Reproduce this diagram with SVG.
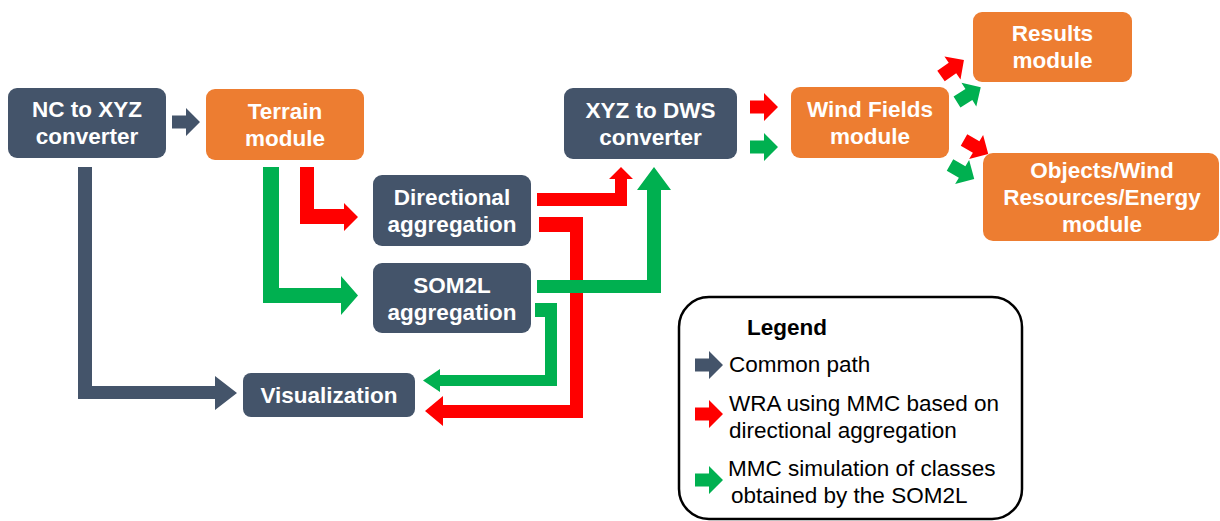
<svg xmlns="http://www.w3.org/2000/svg" width="1220" height="521" viewBox="0 0 1220 521">
  <style>
    .dark { fill: #44546A; }
    .orange { fill: #ED7D31; }
    .node text { font-family: "Liberation Sans", Arial, sans-serif; font-size: 22.5px; font-weight: bold; fill: #FFFFFF; text-anchor: middle; }
    .red { fill: #FF0000; }
    .green { fill: #00B050; }
    .grey { fill: #44546A; }
    .legend-text { font-family: "Liberation Sans", Arial, sans-serif; font-size: 22.5px; fill: #000000; }
  </style>
  <defs>
    <!-- small block arrow pointing right, tail at origin -->
    <path id="blk" d="M0,-6.5 H14 V-14 L28,0 L14,14 V6.5 H0 Z"/>
  </defs>
  <rect width="1220" height="521" fill="#FFFFFF"/>

  <!-- connectors -->
  <g id="connectors">
    <!-- common path -->
    <use href="#blk" class="grey" transform="translate(172,122)"/>
    <polygon class="grey" points="78,167 92,167 92,386 215,386 215,376 237,393 215,410 215,399 78,399"/>
    <!-- directional aggregation path -->
    <polygon class="red" points="300,167 314,167 314,209 344,209 344,203 358,217 344,231 344,224 300,224"/>
    <polygon class="red" points="537,193 615,193 615,179 609,179 621,167 633,179 627,179 627,206 537,206"/>
    <polygon class="red" points="539,217 583,217 583,418 443,418 443,426 425,411 443,396 443,405 570,405 570,232 539,232"/>
    <use href="#blk" class="red" transform="translate(750,107)"/>
    <use href="#blk" class="red" transform="translate(941,76) rotate(-35)"/>
    <use href="#blk" class="red" transform="translate(964,140) rotate(30)"/>
    <!-- SOM2L path -->
    <polygon class="green" points="263,167 279,167 279,288 341,288 341,276 358,295.5 341,315 341,303 263,303"/>
    <polygon class="green" points="537,280 647,280 647,190 637,190 654,167 671,190 661,190 661,293 537,293"/>
    <polygon class="green" points="535,303 557,303 557,386 440,386 440,392 423,380.5 440,369 440,375 545,375 545,317 535,317"/>
    <use href="#blk" class="green" transform="translate(750,147)"/>
    <use href="#blk" class="green" transform="translate(957,102) rotate(-32)"/>
    <use href="#blk" class="green" transform="translate(950,165) rotate(30)"/>
  </g>

  <!-- nodes -->
  <g id="nc-to-xyz" class="node">
    <rect class="dark" x="8" y="88" width="158" height="70" rx="9"/>
    <text x="87" y="117">NC to XYZ</text>
    <text x="87" y="144">converter</text>
  </g>
  <g id="terrain" class="node">
    <rect class="orange" x="206" y="89" width="158" height="71" rx="9"/>
    <text x="285" y="119">Terrain</text>
    <text x="285" y="146">module</text>
  </g>
  <g id="directional" class="node">
    <rect class="dark" x="373" y="175" width="158" height="71" rx="9"/>
    <text x="452" y="205">Directional</text>
    <text x="452" y="232">aggregation</text>
  </g>
  <g id="som2l" class="node">
    <rect class="dark" x="373" y="263" width="158" height="70" rx="9"/>
    <text x="452" y="293">SOM2L</text>
    <text x="452" y="320">aggregation</text>
  </g>
  <g id="visualization" class="node">
    <rect class="dark" x="243" y="373" width="172" height="44" rx="8"/>
    <text x="329" y="403">Visualization</text>
  </g>
  <g id="xyz-to-dws" class="node">
    <rect class="dark" x="564" y="88" width="173" height="71" rx="9"/>
    <text x="650.5" y="118">XYZ to DWS</text>
    <text x="650.5" y="145">converter</text>
  </g>
  <g id="wind-fields" class="node">
    <rect class="orange" x="791" y="87" width="158" height="71" rx="9"/>
    <text x="870" y="117">Wind Fields</text>
    <text x="870" y="144">module</text>
  </g>
  <g id="results" class="node">
    <rect class="orange" x="973" y="12" width="159" height="70" rx="9"/>
    <text x="1052.5" y="41">Results</text>
    <text x="1052.5" y="68">module</text>
  </g>
  <g id="objects" class="node">
    <rect class="orange" x="983" y="153" width="236" height="88" rx="10"/>
    <text x="1102" y="178">Objects/Wind</text>
    <text x="1102" y="205">Resources/Energy</text>
    <text x="1102" y="232">module</text>
  </g>

  <!-- legend -->
  <g id="legend">
    <rect x="679" y="297" width="343" height="222" rx="30" fill="#FFFFFF" stroke="#000000" stroke-width="2.5"/>
    <text class="legend-text" x="747" y="335" font-weight="bold">Legend</text>
    <use href="#blk" class="grey" transform="translate(695,365)"/>
    <text class="legend-text" x="729" y="372">Common path</text>
    <use href="#blk" class="red" transform="translate(695,414)"/>
    <text class="legend-text" x="729" y="411">WRA using MMC based on</text>
    <text class="legend-text" x="729" y="438">directional aggregation</text>
    <use href="#blk" class="green" transform="translate(695,480)"/>
    <text class="legend-text" x="728" y="476">MMC simulation of classes</text>
    <text class="legend-text" x="731" y="503">obtained by the SOM2L</text>
  </g>
</svg>
